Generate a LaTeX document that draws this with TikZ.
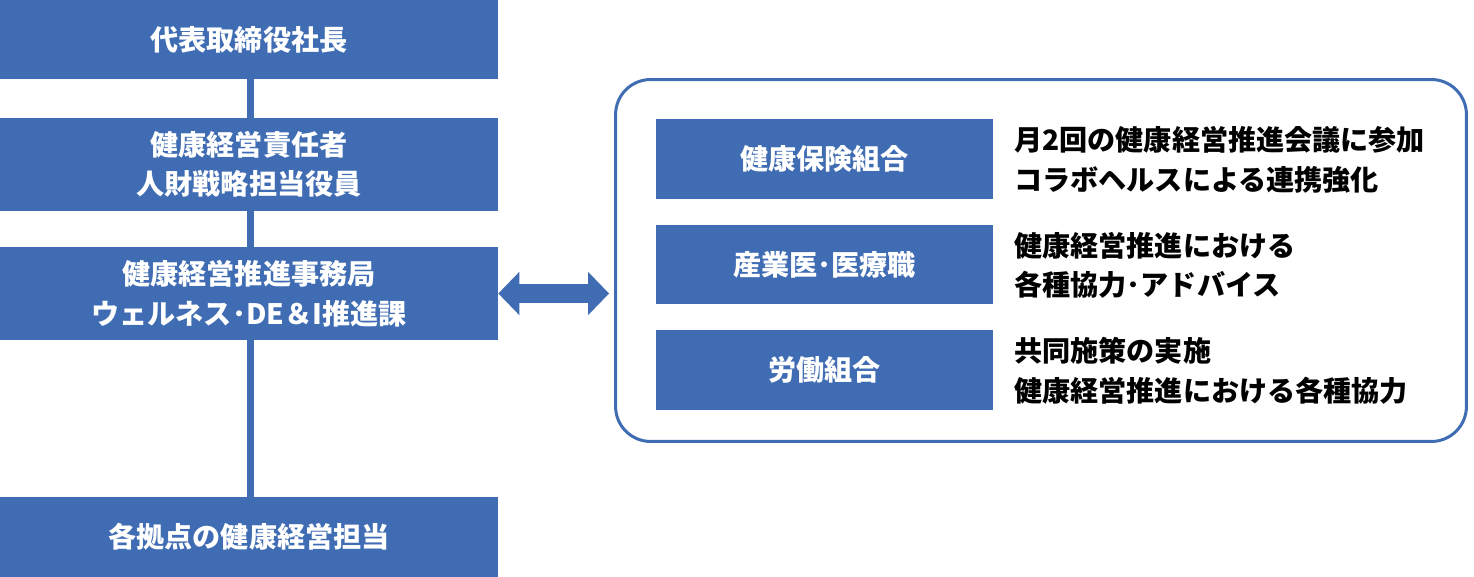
\documentclass[tikz,border=0pt]{standalone}
\usepackage{fontspec}
\setmainfont{Noto Sans CJK JP}
\usetikzlibrary{arrows.meta}
\definecolor{boxblue}{RGB}{63,108,179}
\tikzset{
  bluebox/.style={fill=boxblue, text=white, inner sep=0pt, align=center,
    font=\fontsize{16}{22.5}\selectfont\bfseries},
  notetext/.style={anchor=west, inner sep=0pt, align=left,
    font=\fontsize{16}{22.5}\selectfont\bfseries},
}
\begin{document}
\begin{tikzpicture}[x=0.02cm, y=-0.02cm]
\useasboundingbox (0,0) rectangle (1474,577);
\draw[boxblue, line width=0.14cm] (250,40) -- (250,537);
\node[bluebox, minimum width=9.96cm, minimum height=1.58cm] (P_0_0) at (249,39.5) {代表取締役社長};
\node[bluebox, minimum width=9.96cm, minimum height=1.86cm] (P_0_1) at (249,164.5) {健康経営責任者\\人財戦略担当役員};
\node[bluebox, minimum width=9.96cm, minimum height=1.86cm] (P_0_2) at (249,293.5) {健康経営推進事務局\\ウェルネス･DE＆I推進課};
\node[bluebox, minimum width=9.96cm, minimum height=1.6cm] (P_0_3) at (249,537) {各拠点の健康経営担当};
\node[draw=boxblue, line width=0.06cm, rounded corners=0.7cm, minimum width=17.02cm, minimum height=7.24cm] (F) at (1041,260.5) {};
\draw[boxblue, line width=0.4cm, {Triangle[length=0.42cm, width=0.84cm]}-{Triangle[length=0.42cm, width=0.84cm]}, shorten >=0.1cm] (P_0_2.east) -- (P_0_2.east -| F.west);
\node[bluebox, minimum width=6.74cm, minimum height=1.6cm] (P_1_0) at (824.5,159) {健康保険組合};
\node[notetext] (P_2_0) at (1014,160) {月2回の健康経営推進会議に参加\\コラボヘルスによる連携強化};
\node[bluebox, minimum width=6.74cm, minimum height=1.58cm] (P_1_1) at (824.5,264.5) {産業医･医療職};
\node[notetext] (P_2_1) at (1014,265.5) {健康経営推進における\\各種協力･アドバイス};
\node[bluebox, minimum width=6.74cm, minimum height=1.6cm] (P_1_2) at (824.5,370) {労働組合};
\node[notetext] (P_2_2) at (1014,371) {共同施策の実施\\健康経営推進における各種協力};
\end{tikzpicture}
\end{document}
